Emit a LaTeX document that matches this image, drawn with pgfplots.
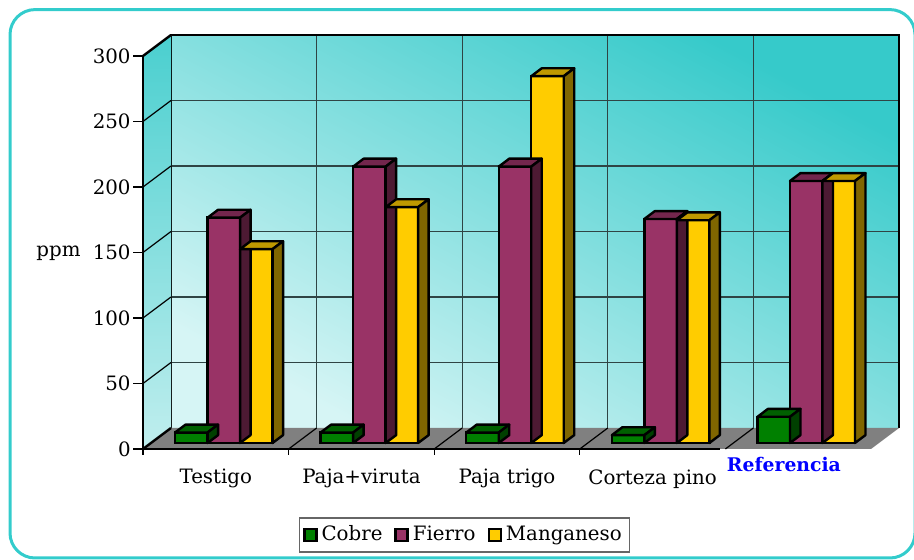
\documentclass[border=0pt]{standalone}
\usepackage{fontspec}
\setmainfont{DejaVu Serif}
\usepackage{pgfplots}
\usepackage{pgfplotstable}
\pgfplotsset{compat=1.18}

\definecolor{frame}{HTML}{33CCCC}
\definecolor{wallA}{HTML}{D6F5F5}
\definecolor{wallB}{HTML}{36CACA}
\definecolor{sideA}{HTML}{C0EEEE}
\definecolor{sideB}{HTML}{4ACFCF}
\definecolor{cuF}{HTML}{008000}
\definecolor{cuT}{HTML}{006000}
\definecolor{cuS}{HTML}{004000}
\definecolor{feF}{HTML}{993366}
\definecolor{feT}{HTML}{73264D}
\definecolor{feS}{HTML}{4D1A33}
\definecolor{mnF}{HTML}{FFCC00}
\definecolor{mnT}{HTML}{BF9900}
\definecolor{mnS}{HTML}{806600}
\definecolor{grid}{HTML}{2F4444}

\pgfplotstableread{
x y
0.5 8
1.5 8
2.5 8
3.5 6
4.5 20
}\cobre
\pgfplotstableread{
x y
0.5 172
1.5 211
2.5 211
3.5 171
4.5 200
}\fierro
\pgfplotstableread{
x y
0.5 148
1.5 180
2.5 280
3.5 170
4.5 200
}\manganeso

\pgfdeclareplotmark{nothing}{}
\pgfplotsset{
  box3d/.style n args={3}{
    forget plot, scatter, only marks, mark=nothing,
    visualization depends on={\thisrow{y} \as \val},
    scatter/@pre marker code/.code={%
      \pgfmathsetmacro\h{\val*0.655}%
      \filldraw[fill=#2, draw=black, line width=1.2pt, line join=round]
        (#1-8.125pt,0pt) -- ++(5.25pt,3.95pt) -- ++(16.25pt,0pt) -- (#1+8.125pt,0pt) -- cycle;
      \filldraw[fill=#3, draw=black, line width=1.2pt, line join=round]
        (#1+8.125pt,0pt) -- ++(5.25pt,3.95pt) -- ++(0pt,-\h pt) -- (#1+8.125pt,-\h pt) -- cycle;
    },
    scatter/@post marker code/.code={},
  },
}

\begin{document}
\begin{tikzpicture}[font=\fontsize{9.9}{11.8}\selectfont]
\useasboundingbox (0,0) rectangle (457pt,280pt);
\draw[frame, line width=1.5pt, rounded corners=12.5pt] (5pt,1pt) rectangle (457.5pt,275.2pt);

\begin{axis}[
  at={(71.5pt,55.5pt)}, anchor=south west,
  scale only axis, width=364pt, height=196.5pt,
  xmin=0, xmax=5, ymin=0, ymax=300,
  clip=false,
  axis lines*=left, axis on top,
  x axis line style={draw=none},
  y axis line style={line width=1.2pt},
  xtick={0.5,1.5,2.5,3.5,4.5},
  xticklabels={Testigo,Paja+viruta,Paja trigo,Corteza pino,{}},
  major x tick style={draw=none},
  minor xtick={0,1,2,3},
  minor x tick style={black, line width=0.6pt},
  ytick={0,50,...,300},
  y tick style={black, line width=0.6pt},
  tick align=outside,
  major tick length=5pt, minor tick length=3pt,
  /pgf/number format/assume math mode=true,
  yticklabel style={inner sep=1pt},
  xticklabel style={inner sep=1pt, yshift=-4pt},
  ylabel={ppm},
  every axis y label/.style={at={(axis description cs:-0.116,0.499)}, anchor=center},
]
% back wall
\shade[bottom color=wallA, top color=wallB, shading angle=-28]
  ([xshift=14pt,yshift=10.5pt]axis cs:0,0) rectangle ([xshift=14pt,yshift=10.5pt]axis cs:5,300);
\pgfplotsinvokeforeach{50,100,150,200,250}{
  \draw[grid, line width=0.6pt] ([xshift=14pt,yshift=10.5pt]axis cs:0,#1) -- ([xshift=14pt,yshift=10.5pt]axis cs:5,#1);
}
\pgfplotsinvokeforeach{1,2,3,4}{
  \draw[grid, line width=0.6pt] ([xshift=14pt,yshift=10.5pt]axis cs:#1,0) -- ([xshift=14pt,yshift=10.5pt]axis cs:#1,300);
}
\draw[line width=1.2pt] ([xshift=14pt,yshift=10.5pt]axis cs:0,0) -- ([xshift=14pt,yshift=10.5pt]axis cs:0,300)
  -- ([xshift=14pt,yshift=10.5pt]axis cs:5,300) -- ([xshift=14pt,yshift=10.5pt]axis cs:5,0);
% left wall
\shade[bottom color=sideA, top color=sideB]
  (axis cs:0,0) -- (axis cs:0,300) -- ([xshift=14pt,yshift=10.5pt]axis cs:0,300) -- ([xshift=14pt,yshift=10.5pt]axis cs:0,0) -- cycle;
\pgfplotsinvokeforeach{50,100,150,200,250}{
  \draw[black, line width=0.6pt] (axis cs:0,#1) -- ([xshift=14pt,yshift=10.5pt]axis cs:0,#1);
}
\draw[line width=1.2pt] (axis cs:0,300) -- ([xshift=14pt,yshift=10.5pt]axis cs:0,300);
% floor
\fill[black!50] (axis cs:0,0) -- (axis cs:5,0) -- ([xshift=14pt,yshift=10.5pt]axis cs:5,0) -- ([xshift=14pt,yshift=10.5pt]axis cs:0,0) -- cycle;
\pgfplotsinvokeforeach{1,2,3,4}{
  \draw[black, line width=0.6pt] (axis cs:#1,0) -- ([xshift=14pt,yshift=10.5pt]axis cs:#1,0);
}
\draw[line width=1.2pt] (axis cs:0,0) -- ([xshift=14pt,yshift=10.5pt]axis cs:0,0);
\draw[line width=1pt] (axis cs:0,0) -- (axis cs:3.963,0);
\node[text=blue, font=\bfseries\fontsize{9.4}{11}\selectfont, anchor=center] at ([yshift=-7.5pt]axis cs:4.402,0) {Referencia};
\end{axis}

\begin{axis}[
  at={(75.5pt,58.5pt)}, anchor=south west,
  scale only axis, width=364pt, height=196.5pt,
  xmin=0, xmax=5, ymin=0, ymax=300,
  hide axis, clip=false,
  legend image code/.code={\draw[#1, line width=1.2pt, draw=black] (0pt,-3pt) rectangle (6pt,3pt);},
  legend style={at={(0.4306,-0.234)}, anchor=center, draw=black!60, line width=0.6pt,
    legend columns=-1, inner sep=2pt,
    /tikz/every even column/.append style={column sep=4pt}},
]
\addplot[ybar, bar width=16.25pt, bar shift=-16.25pt, fill=cuF, draw=black, line width=1.2pt] table {\cobre};
\addplot[box3d={-16.25pt}{cuT}{cuS}] table {\cobre};
\addplot[ybar, bar width=16.25pt, bar shift=0pt, fill=feF, draw=black, line width=1.2pt] table {\fierro};
\addplot[box3d={0pt}{feT}{feS}] table {\fierro};
\addplot[ybar, bar width=16.25pt, bar shift=16.25pt, fill=mnF, draw=black, line width=1.2pt] table {\manganeso};
\addplot[box3d={16.25pt}{mnT}{mnS}] table {\manganeso};
\legend{Cobre,Fierro,Manganeso}
\end{axis}
\end{tikzpicture}
\end{document}
